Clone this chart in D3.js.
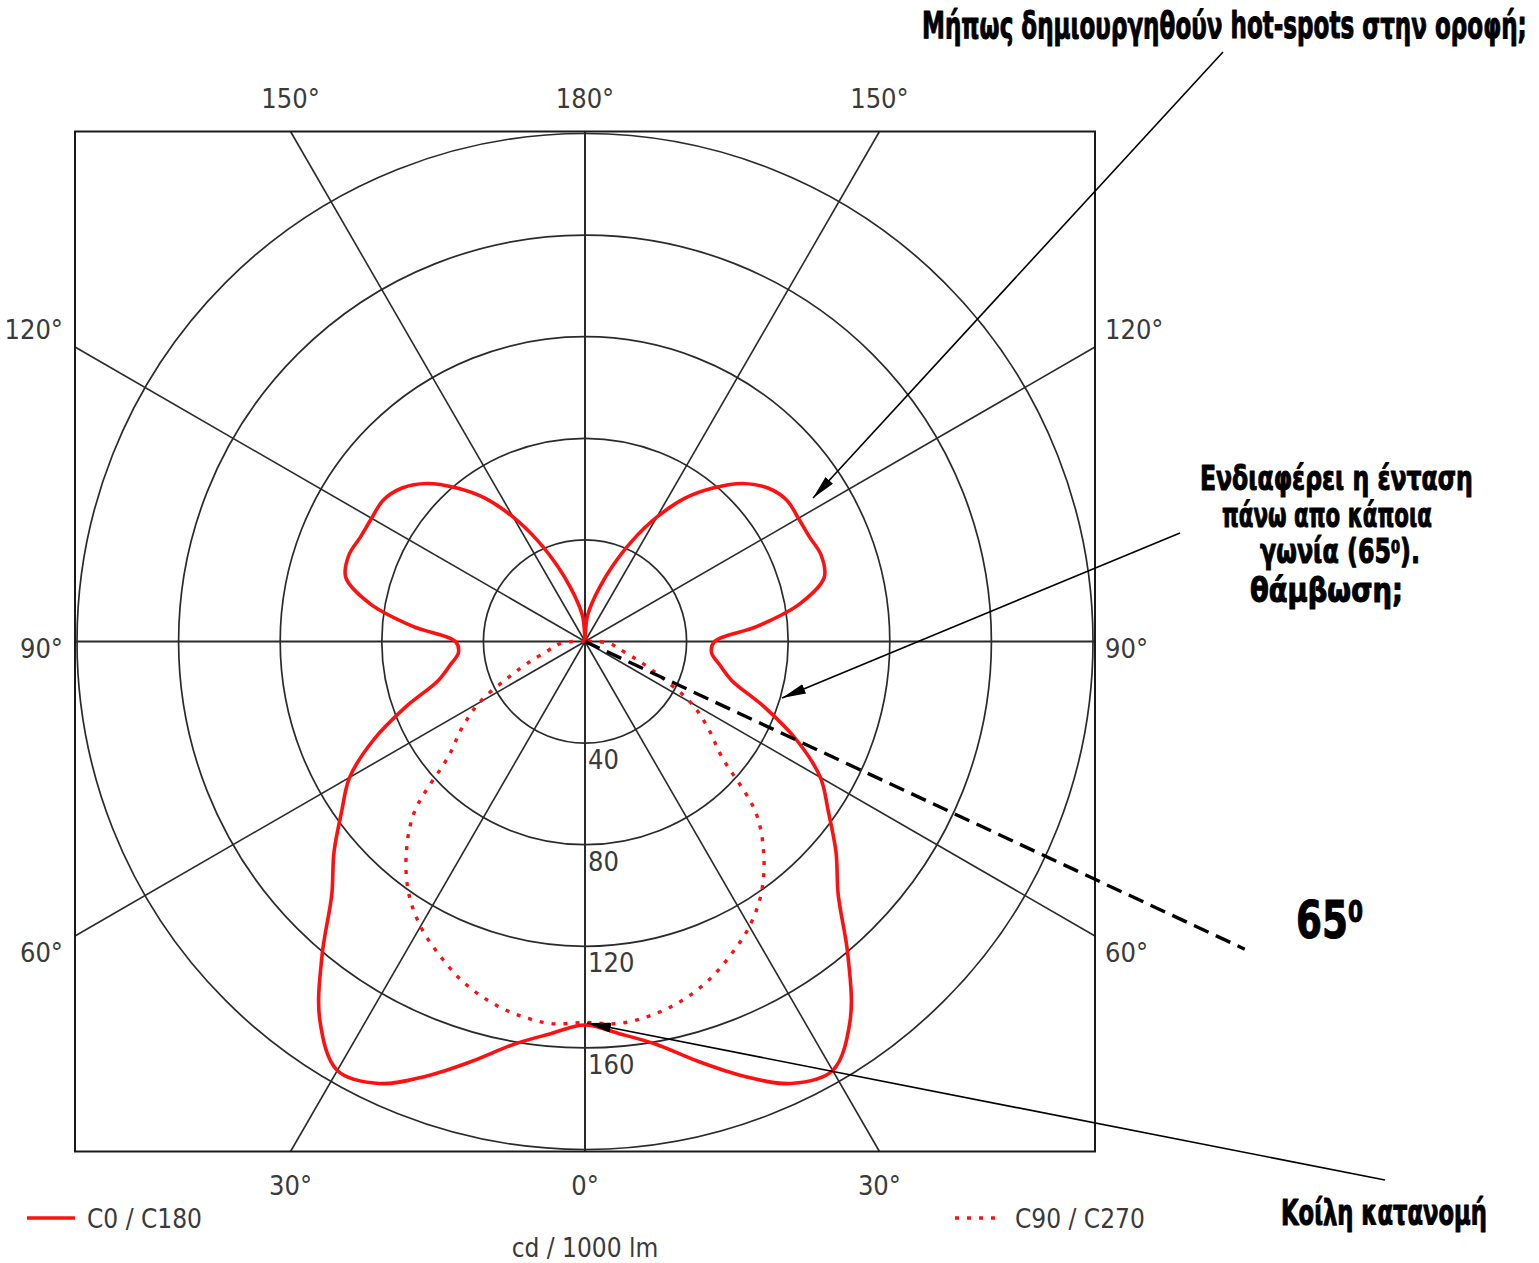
<!DOCTYPE html>
<html>
<head>
<meta charset="utf-8">
<script src="https://cdn.jsdelivr.net/npm/d3@7"></script>
<style>
  html, body { margin: 0; padding: 0; background: #fff; }
  svg { display: block; }
</style>
</head>
<body>
<svg id="chart" width="1539" height="1263"></svg>
<script>
// Vertical angle γ in degrees (0° = nadir, 180° = zenith), 5° steps
const gammaDeg = [0, 5, 10, 15, 20, 25, 30, 35, 40, 45, 50, 55, 60, 65, 70, 75, 80, 85, 90,
                  95, 100, 105, 110, 115, 120, 125, 130, 135, 140, 145, 150, 155, 160, 165, 170, 175, 180];

// Luminous intensity in cd / 1000 lm, C0 and C180 half-planes
const c0 = [151, 155, 161, 171, 182, 192, 195, 182, 161, 141, 129, 117, 107, 92, 75, 60, 54, 50, 51,
            68, 86, 97.5, 99, 97.5, 97, 97, 94, 88, 79, 69, 56.5, 43.5, 31.5, 22, 15, 9.5, 0];
const c180 = [151, 155, 161, 171, 182, 192, 195, 182, 161, 141, 129, 117, 107, 92, 75, 60, 54, 50, 51,
              68, 86, 97.5, 99, 97.5, 97, 97, 94, 88, 79, 69, 56.5, 43.5, 31.5, 22, 15, 9.5, 0];

// Luminous intensity in cd / 1000 lm, C90 and C270 half-planes
const c90 = [150, 151, 149.5, 146.5, 142, 136, 129.5, 121, 109.5, 95, 70, 59, 48, 33, 23, 16, 12.5, 10, 5,
             0, 0, 0, 0, 0, 0, 0, 0, 0, 0, 0, 0, 0, 0, 0, 0, 0, 0];
const c270 = [150, 151, 149.5, 146.5, 142, 136, 129.5, 121, 109.5, 95, 70, 59, 48, 33, 23, 16, 12.5, 10, 5,
              0, 0, 0, 0, 0, 0, 0, 0, 0, 0, 0, 0, 0, 0, 0, 0, 0, 0];

// Intensity rings and their labels
const ringValues = [40, 80, 120, 160, 200];
const ringLabels = ["40", "80", "120", "160"];

// Spokes every 30° of γ, labelled along the frame
const spokeGammas = [0, 30, 60, 90, 120, 150, 180];
const topLabels = ["150°", "180°", "150°"];
const sideLabels = ["120°", "90°", "60°"];
const bottomLabels = ["30°", "0°", "30°"];

// Legend entries and unit
const legendNames = ["C0 / C180", "C90 / C270"];
const unitLabel = "cd / 1000 lm";

// Remarks written over the diagram
const noteHotSpots = "Μήπως δημιουργηθούν hot-spots στην οροφή;";
const noteGlare = ["Ενδιαφέρει η ένταση", "πάνω απο κάποια", "γωνία (65", "0", ").", "θάμβωση;"];
const noteConcave = "Κοίλη κατανομή";
const glareAngle = 65;

// ---------------------------------------------------------------
const svg = d3.select("#chart");
const cx = 585, cy = 641.5, half = 510;
const maxValue = 200;
const r = d3.scaleLinear().domain([0, maxValue]).range([0, 508]);
const toRad = Math.PI / 180;

const labelFont = "'Liberation Sans Narrow', 'DejaVu Sans Condensed', 'Liberation Sans', sans-serif";
const noteFont = "'DejaVu Sans', 'Liberation Sans', sans-serif";
const gridColor = "#2a2a2a";
const textColor = "#3a3a3a";

const defs = svg.append("defs");
defs.append("clipPath").attr("id", "frameClip")
  .append("rect").attr("x", -half).attr("y", -half).attr("width", 2 * half).attr("height", 2 * half);

const plot = svg.append("g").attr("transform", `translate(${cx},${cy})`);

// rings
plot.append("g").selectAll("circle").data(ringValues).join("circle")
  .attr("r", d => r(d))
  .attr("fill", "none")
  .attr("stroke", gridColor)
  .attr("stroke-width", 1.7);

// spokes: each γ on both sides, running to the frame edge
const spokeDirs = [];
spokeGammas.forEach(g => {
  spokeDirs.push({ dx: Math.sin(g * toRad), dy: Math.cos(g * toRad), axis: g % 90 === 0 });
  if (g !== 0 && g !== 180) spokeDirs.push({ dx: -Math.sin(g * toRad), dy: Math.cos(g * toRad), axis: g % 90 === 0 });
});
plot.append("g").selectAll("line").data(spokeDirs).join("line")
  .attr("x1", 0).attr("y1", 0)
  .attr("x2", d => d.dx * half / Math.max(Math.abs(d.dx), Math.abs(d.dy)))
  .attr("y2", d => d.dy * half / Math.max(Math.abs(d.dx), Math.abs(d.dy)))
  .attr("stroke", gridColor)
  .attr("stroke-width", d => d.axis ? 2 : 1.6);

// frame
plot.append("rect")
  .attr("x", -half).attr("y", -half).attr("width", 2 * half).attr("height", 2 * half)
  .attr("fill", "none").attr("stroke", "#1a1a1a").attr("stroke-width", 2);

// ring labels, just right of the vertical axis below each ring
plot.append("g").selectAll("text").data(ringLabels).join("text")
  .attr("x", 3)
  .attr("y", (d, i) => r(ringValues[i]) + 26)
  .attr("font-family", labelFont).attr("font-size", 27).attr("fill", textColor)
  .text(d => d);

// angle labels around the frame
const t30 = Math.tan(30 * toRad) * half;
const angleText = plot.append("g")
  .attr("font-family", labelFont).attr("font-size", 27).attr("fill", textColor);
[-t30, 0, t30].forEach((x, i) => {
  angleText.append("text").attr("x", x).attr("y", -half - 24).attr("text-anchor", "middle").text(topLabels[i]);
  angleText.append("text").attr("x", x).attr("y", half + 43).attr("text-anchor", "middle").text(bottomLabels[i]);
});
[-t30 - 17, 7, t30 + 17].forEach((y, i) => {
  angleText.append("text").attr("x", -half - 12).attr("y", y + 9).attr("text-anchor", "end").text(sideLabels[i]);
  angleText.append("text").attr("x", half + 10).attr("y", y + 9).attr("text-anchor", "start").text(sideLabels[i]);
});

// photometric curves: left half-plane from zenith down to nadir, right half-plane back up
function curvePoints(leftVals, rightVals) {
  const pts = [];
  for (let i = gammaDeg.length - 1; i >= 0; i--) pts.push({ a: (180 + gammaDeg[i]) * toRad, v: leftVals[i] });
  for (let i = 1; i < gammaDeg.length; i++) pts.push({ a: (180 - gammaDeg[i]) * toRad, v: rightVals[i] });
  return pts;
}
const radial = d3.lineRadial()
  .angle(d => d.a)
  .radius(d => r(d.v))
  .curve(d3.curveCatmullRom.alpha(0.5));

const curves = plot.append("g").attr("clip-path", "url(#frameClip)");
curves.append("path")
  .attr("d", radial(curvePoints(c270, c90)))
  .attr("fill", "none").attr("stroke", "#ff1010").attr("stroke-width", 3.4)
  .attr("stroke-dasharray", "4 8");
curves.append("path")
  .attr("d", radial(curvePoints(c180, c0)))
  .attr("fill", "none").attr("stroke", "#ff1010").attr("stroke-width", 3.6)
  .attr("stroke-linejoin", "round");

// legend and unit
const legend = svg.append("g").attr("font-family", labelFont).attr("font-size", 26).attr("fill", textColor);
legend.append("line").attr("x1", 27).attr("x2", 75).attr("y1", 1218).attr("y2", 1218)
  .attr("stroke", "#ff1010").attr("stroke-width", 3.4);
legend.append("text").attr("x", 87).attr("y", 1228).text(legendNames[0]);
legend.append("line").attr("x1", 955).attr("x2", 999).attr("y1", 1218).attr("y2", 1218)
  .attr("stroke", "#ff1010").attr("stroke-width", 3.4).attr("stroke-dasharray", "4 8");
legend.append("text").attr("x", 1015).attr("y", 1228).text(legendNames[1]);
legend.append("text").attr("x", cx).attr("y", 1257).attr("text-anchor", "middle").text(unitLabel);

// ---------------------------------------------------------------
// remarks: heavy type squeezed horizontally to its box width
defs.append("marker").attr("id", "head")
  .attr("viewBox", "0 0 24 10").attr("refX", 24).attr("refY", 5)
  .attr("markerWidth", 24).attr("markerHeight", 10).attr("markerUnits", "userSpaceOnUse")
  .attr("orient", "auto")
  .append("path").attr("d", "M0,0 L24,5 L0,10 Z").attr("fill", "#000");

const notes = svg.append("g").attr("font-family", noteFont).attr("font-weight", "bold")
  .attr("fill", "#000").attr("stroke", "#000").attr("stroke-width", 1.1).attr("stroke-linejoin", "round");

function fitText(sel, x, y, width) {
  const natural = sel.node().getComputedTextLength();
  sel.attr("transform", `translate(${x},${y}) scale(${width / natural},1)`);
  return sel;
}
function note(x, y, size, width, str) {
  const t = notes.append("text").attr("x", 0).attr("y", 0).attr("font-size", size).text(str);
  return fitText(t, x, y, width);
}

note(922, 38, 38, 605, noteHotSpots);
note(1200, 490, 34, 273, noteGlare[0]);
note(1222, 527, 34, 210, noteGlare[1]);
const line3 = notes.append("text").attr("x", 0).attr("y", 0).attr("font-size", 33);
line3.append("tspan").text(noteGlare[2]);
line3.append("tspan").attr("font-size", 18).attr("dy", -10).text(noteGlare[3]);
line3.append("tspan").attr("dy", 10).text(noteGlare[4]);
fitText(line3, 1260, 563, 160);
note(1250, 602, 33, 153, noteGlare[5]);
note(1281, 1225, 36, 206, noteConcave);

// 65° sight line from the centre
const glareLen = 728;
svg.append("line")
  .attr("x1", cx).attr("y1", cy)
  .attr("x2", cx + glareLen * Math.sin(glareAngle * toRad))
  .attr("y2", cy + glareLen * Math.cos(glareAngle * toRad))
  .attr("stroke", "#000").attr("stroke-width", 3.4).attr("stroke-dasharray", "16 8");
const big = notes.append("text").attr("x", 0).attr("y", 0).attr("font-size", 52);
big.append("tspan").text(String(glareAngle));
big.append("tspan").attr("font-size", 30).attr("dy", -16).text("0");
fitText(big, 1296, 938, 67);

// arrows
const arrows = [
  { x1: 1223, y1: 52, x2: 813, y2: 498 },
  { x1: 1180, y1: 533, x2: 782, y2: 698 },
  { x1: 1385, y1: 1180, x2: cx + 2, y2: cy + r(c0[0]) - 2 }
];
svg.append("g").selectAll("line").data(arrows).join("line")
  .attr("x1", d => d.x1).attr("y1", d => d.y1).attr("x2", d => d.x2).attr("y2", d => d.y2)
  .attr("stroke", "#000").attr("stroke-width", 1.6)
  .attr("marker-end", "url(#head)");
</script>
</body>
</html>
